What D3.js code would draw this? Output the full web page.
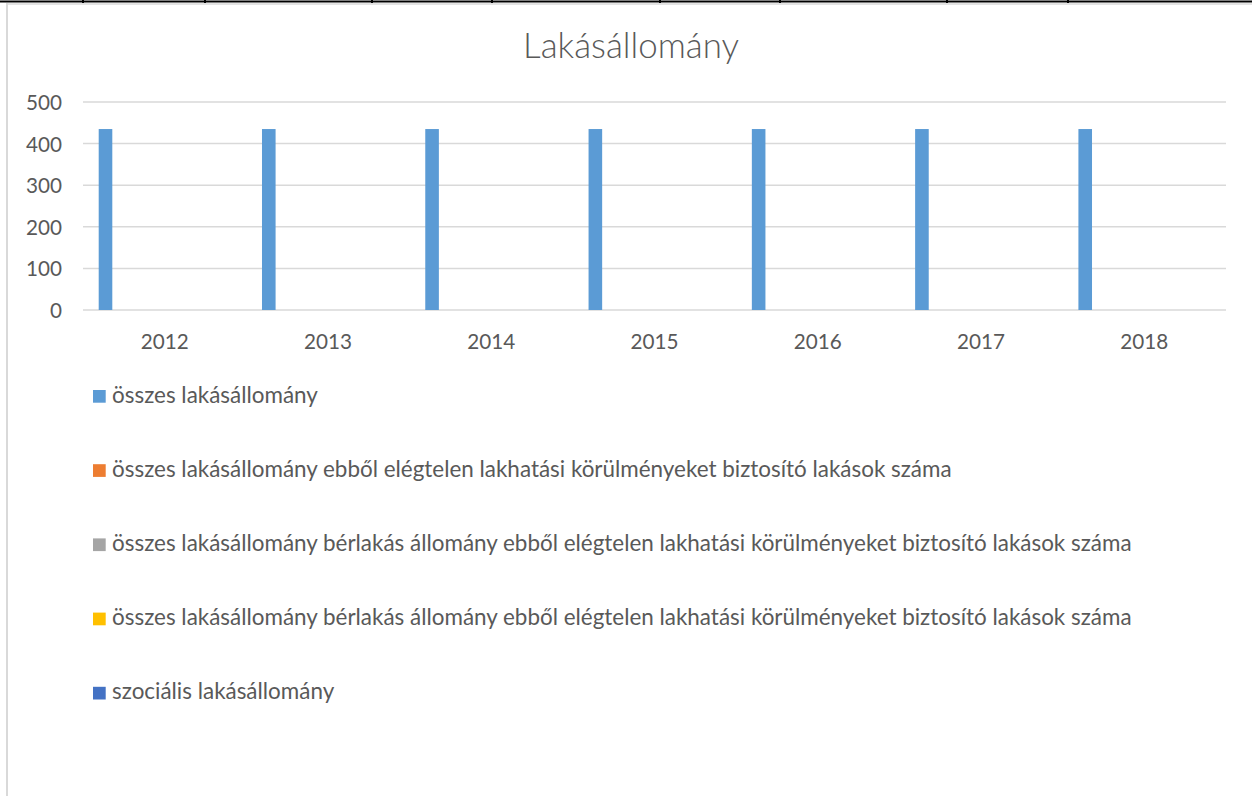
<!DOCTYPE html>
<html>
<head>
<meta charset="utf-8">
<script src="https://cdn.jsdelivr.net/npm/d3@7"></script>
<style>
  html, body { margin: 0; padding: 0; background: #fff; }
  svg { display: block; }
  text { font-family: Lato, "Open Sans", sans-serif; fill: #595959; }
</style>
</head>
<body>
<svg id="chart" width="1252" height="796"></svg>
<script>
// ---- data ----
const title = "Lakásállomány";
const categories = ["2012", "2013", "2014", "2015", "2016", "2017", "2018"];
const seriesNames = [
  "összes lakásállomány",
  "összes lakásállomány ebből elégtelen lakhatási körülményeket biztosító lakások száma",
  "összes lakásállomány bérlakás állomány ebből elégtelen lakhatási körülményeket biztosító lakások száma",
  "összes lakásállomány bérlakás állomány ebből elégtelen lakhatási körülményeket biztosító lakások száma",
  "szociális lakásállomány"
];
const seriesColors = ["#5B9BD5", "#ED7D31", "#A5A5A5", "#FFC000", "#4472C4"];
const s1 = [435, 435, 435, 435, 435, 435, 435];
const s2 = [0, 0, 0, 0, 0, 0, 0];
const s3 = [0, 0, 0, 0, 0, 0, 0];
const s4 = [0, 0, 0, 0, 0, 0, 0];
const s5 = [0, 0, 0, 0, 0, 0, 0];
const seriesValues = [s1, s2, s3, s4, s5];
const yTicks = [0, 100, 200, 300, 400, 500];

// ---- layout ----
const svg = d3.select("#chart");
const W = 1252, H = 796;
const plotLeft = 83, plotRight = 1226, plotTop = 102, plotBottom = 310;

// sheet frame artefacts
const frame = svg.append("g");
frame.append("line").attr("x1", 0).attr("x2", W).attr("y1", 1.5).attr("y2", 1.5)
  .attr("stroke", "#000").attr("stroke-width", 2);
[83, 205, 372, 492, 660, 780, 947, 1068].forEach(x => {
  frame.append("line").attr("x1", x).attr("x2", x).attr("y1", 0).attr("y2", 3)
    .attr("stroke", "#000").attr("stroke-width", 2);
});
frame.append("line").attr("x1", 7).attr("x2", W).attr("y1", 4).attr("y2", 4)
  .attr("stroke", "#e3e3e3").attr("stroke-width", 2);
frame.append("line").attr("x1", 7).attr("x2", 7).attr("y1", 3).attr("y2", H)
  .attr("stroke", "#d9d9d9").attr("stroke-width", 2);

// helper: fit font size so that a sample string has a target width
function fitSize(sample, targetWidth, base, weight) {
  const t = svg.append("text").attr("font-size", base).text(sample);
  if (weight) t.attr("font-weight", weight);
  const w = t.node().getComputedTextLength();
  t.remove();
  return base * targetWidth / w;
}

// title
const titleSize = fitSize(title, 216, 30, 300);
svg.append("text").attr("x", 631).attr("y", 58).attr("text-anchor", "middle")
  .attr("font-weight", 300).attr("font-size", titleSize).text(title);

// scales
const x0 = d3.scaleBand().domain(categories).range([plotLeft, plotRight]).paddingInner(0).paddingOuter(0);
const barOffset = 15.7, barW = 13.6;
const x1 = d3.scaleBand().domain(d3.range(seriesNames.length)).range([barOffset, barOffset + barW * seriesNames.length]);
const y = d3.scaleLinear().domain([0, 500]).range([plotBottom, plotTop]);

// gridlines
svg.append("g").selectAll("line").data(yTicks).join("line")
  .attr("x1", plotLeft).attr("x2", plotRight)
  .attr("y1", d => y(d)).attr("y2", d => y(d))
  .attr("stroke", "#D9D9D9").attr("stroke-width", 1.5);

// y axis labels
const tickSize = fitSize("2012", 48, 20);
const yAxis = d3.axisLeft(y).tickValues(yTicks).tickSize(0).tickPadding(0);
const gy = svg.append("g").attr("transform", "translate(62,0)").call(yAxis);
gy.select(".domain").remove();
gy.selectAll("text").attr("font-size", tickSize).attr("fill", "#595959")
  .attr("font-family", "Lato, 'Open Sans', sans-serif").attr("dy", "0.36em");

// x axis labels
const xAxis = d3.axisBottom(x0).tickSize(0).tickPadding(0);
const gx = svg.append("g").attr("transform", `translate(0,${plotBottom})`).call(xAxis);
gx.select(".domain").remove();
gx.selectAll("text").attr("font-size", tickSize).attr("fill", "#595959")
  .attr("font-family", "Lato, 'Open Sans', sans-serif").attr("dy", null).attr("y", 39);

// bars
const groups = svg.append("g").selectAll("g").data(categories).join("g")
  .attr("transform", d => `translate(${x0(d)},0)`);
groups.selectAll("rect")
  .data((c, ci) => seriesValues.map((vals, si) => ({ si, v: vals[ci] })))
  .join("rect")
  .attr("x", d => x1(d.si))
  .attr("width", barW)
  .attr("y", d => y(d.v))
  .attr("height", d => y(0) - y(d.v))
  .attr("fill", d => seriesColors[d.si]);

// legend
const legendSize = fitSize(seriesNames[1], 952 - 112, 19);
const legend = svg.append("g");
seriesNames.forEach((name, i) => {
  const top = 390 + i * 74.2;
  legend.append("rect").attr("x", 93).attr("y", top).attr("width", 12.7).attr("height", 12.7)
    .attr("fill", seriesColors[i]);
  legend.append("text").attr("x", 112).attr("y", top + 12.5)
    .attr("font-size", legendSize).text(name);
});
</script>
</body>
</html>
